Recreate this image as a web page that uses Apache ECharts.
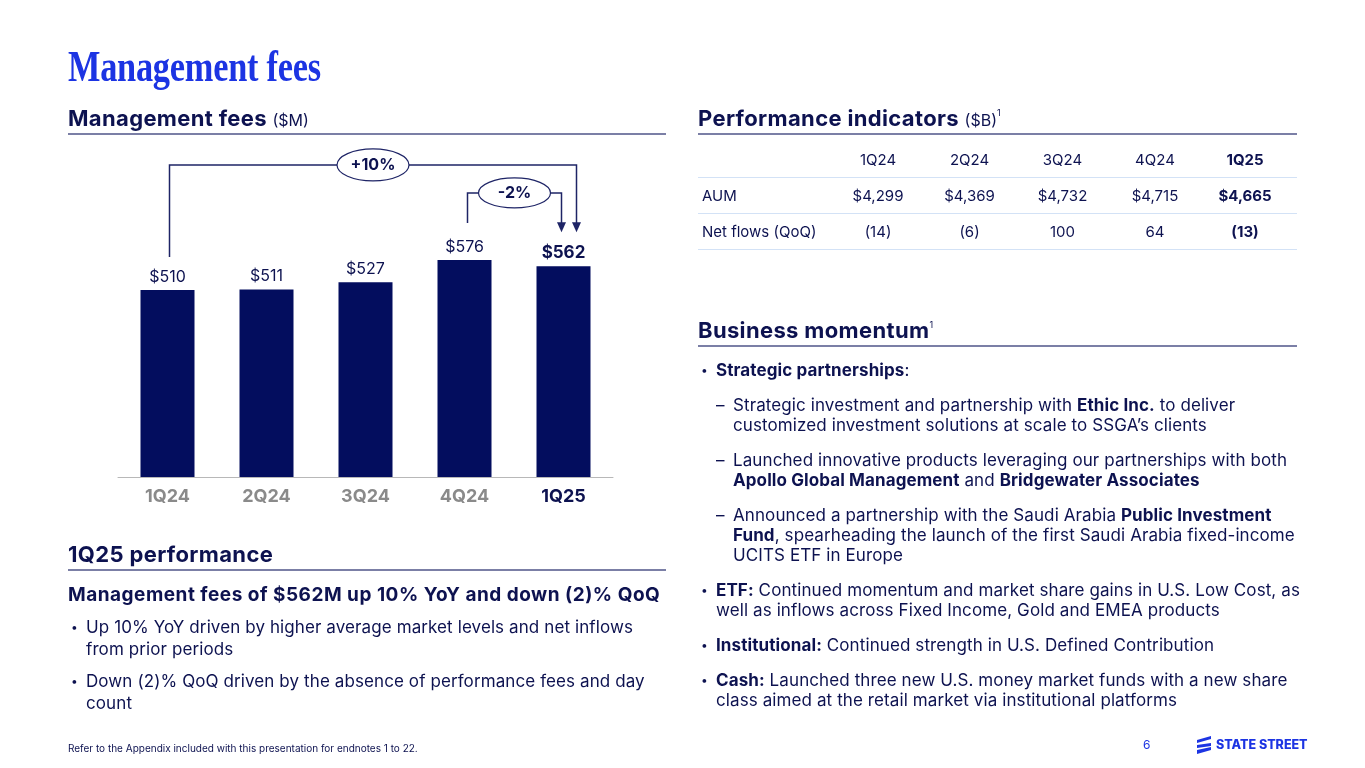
<!DOCTYPE html>
<html>
<head>
<meta charset="utf-8">
<script src="https://cdn.jsdelivr.net/npm/echarts@6/dist/echarts.min.js"></script>
<style>
  html,body{margin:0;padding:0;background:#fff;}
  body{width:1365px;height:768px;position:relative;overflow:hidden;font-family:Inter,"Noto Sans",sans-serif;color:#0d1250;}
  #chart{position:absolute;left:0;top:0;width:1365px;height:768px;}
  .abs{position:absolute;white-space:nowrap;}
  .title{left:68px;top:42px;font-family:"Liberation Serif",serif;font-weight:bold;font-size:44px;line-height:50px;color:#1c34e3;transform:scaleX(0.78);transform-origin:left top;letter-spacing:-0.3px;}
  .hdr{font-weight:bold;font-size:22px;line-height:24px;letter-spacing:0.35px;color:#0d1250;}
  .hdr .u{font-weight:normal;font-size:16px;letter-spacing:0;}
  .hdr sup{font-weight:normal;font-size:9px;vertical-align:top;position:relative;top:-5px;letter-spacing:0;}
  .rule{position:absolute;height:1.5px;background:#7b7fa6;}
  .body16{font-size:17px;line-height:20px;letter-spacing:0.1px;}
  .body17{font-size:17px;line-height:22px;letter-spacing:0.1px;}
  .dot{font-size:12px;}
  b{font-weight:bold;}
  table{position:absolute;left:698px;top:142px;border-collapse:collapse;font-size:15px;color:#0d1250;}
  td{height:35px;padding:0;border-bottom:1.5px solid #d3e2f6;text-align:center;}
  td.lab{text-align:left;padding-left:4px;}
</style>
</head>
<body>
<div id="chart"></div>

<div class="abs title">Management fees</div>

<div class="abs hdr" style="left:68px;top:106px;">Management fees <span class="u">($M)</span></div>
<div class="rule" style="left:68px;top:133px;width:598px;"></div>

<div class="abs hdr" style="left:698px;top:106px;">Performance indicators <span class="u">($B)</span><sup>1</sup></div>
<div class="rule" style="left:698px;top:133px;width:599px;"></div>

<table id="perf"></table>

<div class="abs hdr" style="left:698px;top:318px;">Business momentum<sup>1</sup></div>
<div class="rule" style="left:698px;top:345px;width:599px;"></div>

<div class="abs body16 dot" style="left:701px;top:360px;">•</div>
<div class="abs body16" style="left:716px;top:360px;"><b>Strategic partnerships</b>:</div>

<div class="abs body16" style="left:716px;top:395px;">–</div>
<div class="abs body16" style="left:733px;top:395px;">Strategic investment and partnership with <b>Ethic Inc.</b> to deliver<br>customized investment solutions at scale to SSGA’s clients</div>

<div class="abs body16" style="left:716px;top:450px;">–</div>
<div class="abs body16" style="left:733px;top:450px;">Launched innovative products leveraging our partnerships with both<br><b>Apollo Global Management</b> and <b>Bridgewater Associates</b></div>

<div class="abs body16" style="left:716px;top:505px;">–</div>
<div class="abs body16" style="left:733px;top:505px;">Announced a partnership with the Saudi Arabia <b>Public Investment<br>Fund</b>, spearheading the launch of the first Saudi Arabia fixed-income<br>UCITS ETF in Europe</div>

<div class="abs body16 dot" style="left:701px;top:580px;">•</div>
<div class="abs body16" style="left:716px;top:580px;"><b>ETF:</b> Continued momentum and market share gains in U.S. Low Cost, as<br>well as inflows across Fixed Income, Gold and EMEA products</div>

<div class="abs body16 dot" style="left:701px;top:635px;">•</div>
<div class="abs body16" style="left:716px;top:635px;"><b>Institutional:</b> Continued strength in U.S. Defined Contribution</div>

<div class="abs body16 dot" style="left:701px;top:670px;">•</div>
<div class="abs body16" style="left:716px;top:670px;"><b>Cash:</b> Launched three new U.S. money market funds with a new share<br>class aimed at the retail market via institutional platforms</div>

<div class="abs hdr" style="left:68px;top:542px;">1Q25 performance</div>
<div class="rule" style="left:68px;top:569px;width:598px;"></div>

<div class="abs body17" style="left:68px;top:584px;font-weight:bold;font-size:19px;letter-spacing:0.5px;">Management fees of $562M up 10% YoY and down (2)% QoQ</div>
<div class="abs body17 dot" style="left:71px;top:616px;">•</div>
<div class="abs body17" style="left:86px;top:616px;">Up 10% YoY driven by higher average market levels and net inflows<br>from prior periods</div>
<div class="abs body17 dot" style="left:71px;top:670px;">•</div>
<div class="abs body17" style="left:86px;top:670px;">Down (2)% QoQ driven by the absence of performance fees and day<br>count</div>

<div class="abs" style="left:68px;top:741px;font-size:10px;line-height:14px;color:#0d1250;">Refer to the Appendix included with this presentation for endnotes 1 to 22.</div>
<div class="abs" style="left:1143px;top:737px;font-size:12px;line-height:16px;color:#1c34e3;">6</div>
<svg class="abs" style="left:1195px;top:736px;" width="20" height="18" viewBox="0 0 20 18">
  <polygon points="2,4 16,0 16,3 2,7" fill="#1c34e3"/>
  <polygon points="2,9 16,7 16,10 2,12" fill="#1c34e3"/>
  <polygon points="2,14 16,11 16,14 2,18" fill="#1c34e3"/>
</svg>
<div class="abs" style="left:1216px;top:737px;font-size:12.5px;line-height:16px;font-weight:800;color:#1c34e3;">STATE STREET</div>

<script>
// ---- data ----
const categories = ['1Q24', '2Q24', '3Q24', '4Q24', '1Q25'];
const managementFees = [510, 511, 527, 576, 562];
const yoyChange = '+10%';
const qoqChange = '-2%';

const perfColumns = ['1Q24', '2Q24', '3Q24', '4Q24', '1Q25'];
const aumValues = ['$4,299', '$4,369', '$4,732', '$4,715', '$4,665'];
const netFlowValues = ['(14)', '(6)', '100', '64', '(13)'];

// ---- table ----
(function buildTable(){
  const widths = [135, 90, 93, 93, 92, 96];
  const t = document.getElementById('perf');
  function row(label, vals){
    let h = '<tr><td class="lab" style="width:' + (widths[0]-4) + 'px">' + label + '</td>';
    vals.forEach((v, i) => {
      const last = i === vals.length - 1;
      h += '<td style="width:' + (widths[i+1] - (last ? 8 : 0)) + 'px;' + (last ? 'font-weight:bold;padding-right:8px;' : '') + '">' + v + '</td>';
    });
    return h + '</tr>';
  }
  t.innerHTML = row('', perfColumns) + row('AUM', aumValues) + row('Net flows (QoQ)', netFlowValues);
})();

// ---- chart ----
const NAVY = '#0d1250';
const BAR = '#030d5e';
const LINE = '#1e2466';
const chart = echarts.init(document.getElementById('chart'), null, {renderer: 'canvas'});
chart.setOption({
  animation: false,
  grid: {left: 118, right: 752, top: 249, bottom: 291},
  xAxis: {
    type: 'category',
    data: categories,
    axisLine: {lineStyle: {color: '#b8b8b8', width: 1}},
    axisTick: {show: false},
    axisLabel: {
      margin: 11,
      formatter: (v, i) => (i === categories.length - 1 ? '{h|' + v + '}' : '{n|' + v + '}'),
      rich: {
        n: {fontFamily: 'Inter', fontSize: 18, fontWeight: 'bold', color: '#8a8a8a'},
        h: {fontFamily: 'Inter', fontSize: 18, fontWeight: 'bold', color: NAVY}
      }
    }
  },
  yAxis: {type: 'value', min: 100, max: 600, show: false, splitLine: {show: false}},
  series: [{
    type: 'bar',
    data: managementFees,
    barWidth: 54,
    itemStyle: {color: BAR},
    label: {
      show: true,
      position: 'top',
      distance: 5,
      formatter: p => (p.dataIndex === managementFees.length - 1 ? '{h|$' + p.value + '}' : '{n|$' + p.value + '}'),
      rich: {
        n: {fontFamily: 'Inter', fontSize: 16, color: NAVY},
        h: {fontFamily: 'Inter', fontSize: 17, fontWeight: 'bold', color: NAVY}
      }
    }
  }]
});

// ---- annotations, positioned from the data through the chart's scales ----
function px(i) { return chart.convertToPixel({seriesIndex: 0}, [i, managementFees[i]]); }
const last = managementFees.length - 1;
const pFirst = px(0), pPrev = px(last - 1), pLast = px(last);
const maxTop = Math.min(...managementFees.map((v, i) => px(i)[1]));

function bracket(x1, yStart, x2, yEnd, yLine, label, rx, ry) {
  const cx = (x1 + x2) / 2;
  const els = [];
  els.push({type: 'polyline', shape: {points: [[x1, yStart], [x1, yLine], [x2, yLine], [x2, yEnd - 9]]},
            style: {stroke: LINE, lineWidth: 1.5, fill: null}, z: 10});
  els.push({type: 'polygon', shape: {points: [[x2 - 4.5, yEnd - 10], [x2 + 4.5, yEnd - 10], [x2, yEnd]]},
            style: {fill: LINE}, z: 10});
  els.push({type: 'ellipse', shape: {cx: cx, cy: yLine, rx: rx, ry: ry},
            style: {fill: '#fff', stroke: LINE, lineWidth: 1.2}, z: 11});
  els.push({type: 'text', x: cx, y: yLine, style: {text: label, fill: NAVY, font: 'bold 16px Inter', align: 'center', verticalAlign: 'middle'}, z: 12});
  return els;
}
const arrowTip = pLast[1] - 34;
const graphics = []
  .concat(bracket(pFirst[0] + 2, pFirst[1] - 33, pLast[0] + 13, arrowTip, maxTop - 95, yoyChange, 36, 16))
  .concat(bracket(pPrev[0] + 3, pPrev[1] - 37, pLast[0] - 2, arrowTip, maxTop - 67, qoqChange, 36, 15));
chart.setOption({graphic: graphics});
</script>
</body>
</html>
